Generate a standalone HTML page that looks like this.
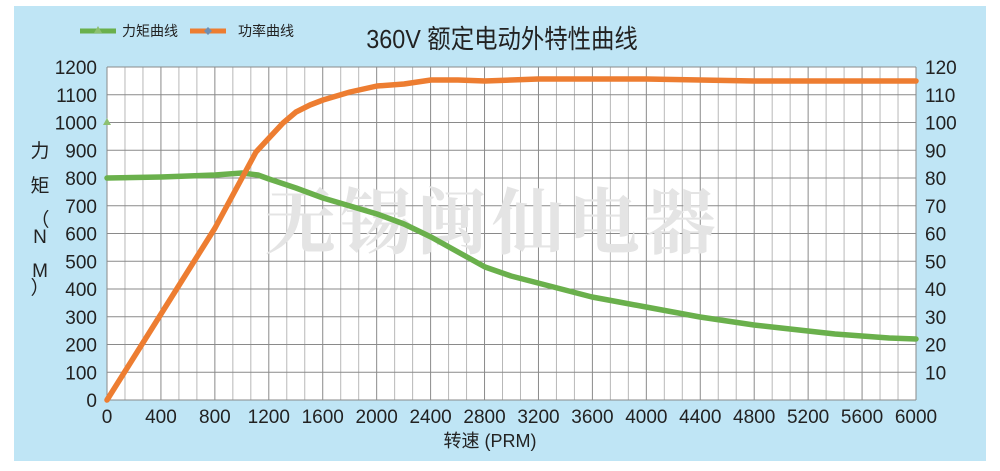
<!DOCTYPE html>
<html><head><meta charset="utf-8"><style>
body{margin:0;background:#fff;}
svg{display:block;font-family:"Liberation Sans","Noto Sans CJK SC",sans-serif;}
</style></head><body>
<svg width="1000" height="471" viewBox="0 0 1000 471">
<rect x="14" y="6" width="972" height="455" fill="#bfe5f5"/>
<rect x="107" y="67" width="809" height="333" fill="#fff"/>
<g id="grid"></g>
<text x="492" y="248" font-size="72" fill="#e4e4e4" text-anchor="middle" font-family="'Noto Serif CJK SC',serif" font-weight="bold" letter-spacing="4">无锡闽仙电器</text>
<text x="502" y="48" font-size="26" fill="#222" text-anchor="middle" transform="translate(502 0) scale(0.9 1) translate(-502 0)">360V 额定电动外特性曲线</text>
<g font-size="14" fill="#222">
<line x1="80" y1="31" x2="116" y2="31" stroke="#6ab04c" stroke-width="5"/>
<polygon points="98,26 102,33 94,33" fill="#8cc070"/>
<text x="122" y="36">力矩曲线</text>
<line x1="190" y1="31" x2="226" y2="31" stroke="#ed7d31" stroke-width="5"/>
<polygon points="208,27 212,31 208,35 204,31" fill="#6f8fb3"/>
<text x="238" y="36">功率曲线</text>
</g>
<g id="labels" font-size="19" fill="#222"></g>
<g font-size="19" fill="#222" text-anchor="middle">
<text x="40" y="157">力</text><text x="40" y="192">矩</text>
<text x="40" y="226">（</text><text x="40" y="243">N</text>
<text x="40" y="277">M</text><text x="40" y="294">）</text>
</g>
<text x="490" y="447" font-size="18" fill="#222" text-anchor="middle">转速 (PRM)</text>
<polyline fill="none" stroke="#6ab04c" stroke-width="5.5" stroke-linejoin="round" stroke-linecap="round" points="107,178 161,177 215,175 242,173 258,175 269,179 296,188 323,198 350,206 377,214 404,224 431,237 458,252 485,267 511,276 538,283 565,290 592,297 619,302 646,307 673,312 700,317 727,321 754,325 781,328 808,331 835,334 862,336 889,338 916,339"/>
<polyline fill="none" stroke="#ed7d31" stroke-width="5.5" stroke-linejoin="round" stroke-linecap="round" points="107,400 161,314 215,228 242,178 256,152 269,138 283,123 296,112 310,105 323,100 350,92 377,86 404,84 431,80 458,80 485,81 538,79 592,79 646,79 700,80 754,81 808,81 862,81 916,81"/>
<g fill="#8cc070">
<polygon points="107,118 111,125 103,125"/>
</g>
<script>
const NS="http://www.w3.org/2000/svg";
const g=document.getElementById('grid'),lab=document.getElementById('labels');
function el(t,a,p,txt){const e=document.createElementNS(NS,t);for(const k in a)e.setAttribute(k,a[k]);if(txt!==undefined)e.textContent=txt;p.appendChild(e);return e;}
for(let i=0;i<=45;i++){const x=107+i*809/45;el('line',{x1:x,y1:67,x2:x,y2:400,stroke:i%3==0?'#8a8a8a':'#b8b8b8','stroke-width':1},g);}
for(let j=0;j<=12;j++){const y=400-j*333/12;el('line',{x1:107,y1:y,x2:916,y2:y,stroke:'#8a8a8a','stroke-width':1},g);
el('text',{x:97,y:y+7,'text-anchor':'end'},lab,String(j*100));
if(j>0)el('text',{x:925,y:y+7},lab,String(j*10));}
for(let i=0;i<=15;i++){const x=107+i*809/15;el('text',{x:x,y:423,'text-anchor':'middle'},lab,String(i*400));}
</script>
</svg>
</body></html>
